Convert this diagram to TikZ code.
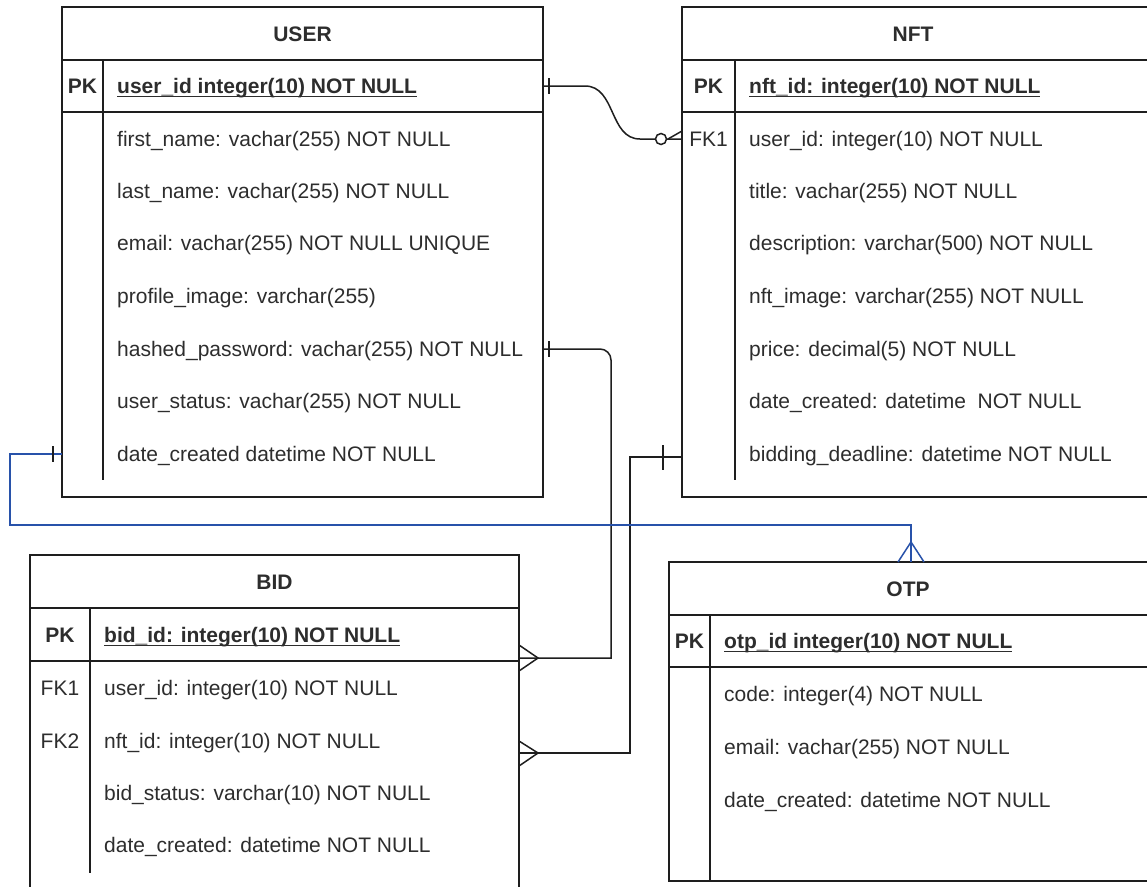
\documentclass[tikz,border=0pt]{standalone}
\usepackage{fontspec}
\setmainfont{Liberation Sans}

\definecolor{ink}{RGB}{30,30,30}
\definecolor{txt}{RGB}{45,45,45}
\definecolor{linkblue}{RGB}{40,82,170}

\newcommand\rowfont{\fontsize{21}{25}\selectfont}
% primary-key field: bold text with a flat underline just below the baseline
\newcommand\keyfield[1]{\setbox0=\hbox{\bfseries #1}\rlap{\rule[-3.6pt]{\wd0}{1.4pt}}\box0}

\begin{document}
\begin{tikzpicture}[x=1pt,y=-1pt,
  entity/.style={draw=ink, line width=1.5pt, inner sep=0pt, outer sep=0pt},
  field/.style={anchor=west, text=txt, font=\rowfont, inner sep=0pt, text height=15pt, text depth=0pt},
  keycell/.style={anchor=center, text=txt, font=\rowfont, inner sep=0pt, text height=15pt, text depth=0pt},
  caption/.style={anchor=center, text=txt, font=\rowfont\bfseries, inner sep=0pt, text height=15pt, text depth=0pt},
  divider/.style={draw=ink, line width=1.5pt},
  rel/.style={draw=ink, line width=1.5pt},
  relblue/.style={draw=linkblue, line width=1.5pt},
]
\useasboundingbox (0,0) rectangle (1147,886);
\clip (0,0) rectangle (1147,886);
\fill[white] (0,0) rectangle (1147,886);

% ---------------- USER ----------------
\node[entity, minimum width=481pt, minimum height=490pt] (user) at (302.5,252) {};
\draw[divider] (62,60) -- (543,60);
\draw[divider] (62,112) -- (543,112);
\draw[divider] (103,60) -- (103,480);
\node[caption] (user-title) at (302.5,33.5) {USER};
\node[keycell] (user-pkl) at (82.5,86) {\bfseries PK};
\node[field] (user-pk) at (117,86) {\keyfield{user\_id integer(10) NOT NULL}};
\node[field] (user-f1) at (117,139) {first\_name: vachar(255) NOT NULL};
\node[field] (user-f2) at (117,191) {last\_name: vachar(255) NOT NULL};
\node[field] (user-f3) at (117,243) {email: vachar(255) NOT NULL UNIQUE};
\node[field] (user-f4) at (117,296) {profile\_image: varchar(255)};
\node[field] (user-f5) at (117,349) {hashed\_password: vachar(255) NOT NULL};
\node[field] (user-f6) at (117,401) {user\_status: vachar(255) NOT NULL};
\node[field] (user-f7) at (117,454) {date\_created datetime NOT NULL};

% ---------------- NFT ----------------
\node[entity, minimum width=466pt, minimum height=490pt] (nft) at (915,252) {};
\draw[divider] (682,60) -- (1148,60);
\draw[divider] (682,112) -- (1148,112);
\draw[divider] (735,60) -- (735,480);
\node[caption] (nft-title) at (913,33.5) {NFT};
\node[keycell] (nft-pkl) at (708.5,86) {\bfseries PK};
\node[keycell] (nft-fkl) at (708.5,139) {FK1};
\node[field] (nft-pk) at (749,86) {\keyfield{nft\_id: integer(10) NOT NULL}};
\node[field] (nft-f1) at (749,139) {user\_id: integer(10) NOT NULL};
\node[field] (nft-f2) at (749,191) {title: vachar(255) NOT NULL};
\node[field] (nft-f3) at (749,243) {description: varchar(500) NOT NULL};
\node[field] (nft-f4) at (749,296) {nft\_image: varchar(255) NOT NULL};
\node[field] (nft-f5) at (749,349) {price: decimal(5) NOT NULL};
\node[field] (nft-f6) at (749,401) {date\_created: datetime\ \ NOT NULL};
\node[field] (nft-f7) at (749,454) {bidding\_deadline: datetime NOT NULL};

% ---------------- BID ----------------
\node[entity, minimum width=489pt, minimum height=350pt] (bid) at (274.5,730) {};
\draw[divider] (30,608) -- (519,608);
\draw[divider] (30,661) -- (519,661);
\draw[divider] (90,608) -- (90,873);
\node[caption] (bid-title) at (274.5,582) {BID};
\node[keycell] (bid-pkl) at (60,635) {\bfseries PK};
\node[keycell] (bid-fk1l) at (60,688) {FK1};
\node[keycell] (bid-fk2l) at (60,741) {FK2};
\node[field] (bid-pk) at (104,635) {\keyfield{bid\_id: integer(10) NOT NULL}};
\node[field] (bid-f1) at (104,688) {user\_id: integer(10) NOT NULL};
\node[field] (bid-f2) at (104,741) {nft\_id: integer(10) NOT NULL};
\node[field] (bid-f3) at (104,793) {bid\_status: varchar(10) NOT NULL};
\node[field] (bid-f4) at (104,845) {date\_created: datetime NOT NULL};

% ---------------- OTP ----------------
\node[entity, minimum width=479pt, minimum height=319pt] (otp) at (908.5,721.5) {};
\draw[divider] (669,615) -- (1148,615);
\draw[divider] (669,667) -- (1148,667);
\draw[divider] (710,615) -- (710,881);
\node[caption] (otp-title) at (908,589) {OTP};
\node[keycell] (otp-pkl) at (689.5,641) {\bfseries PK};
\node[field] (otp-pk) at (724,641) {\keyfield{otp\_id integer(10) NOT NULL}};
\node[field] (otp-f1) at (724,694) {code: integer(4) NOT NULL};
\node[field] (otp-f2) at (724,747) {email: vachar(255) NOT NULL};
\node[field] (otp-f3) at (724,800) {date\_created: datetime NOT NULL};

% ---------------- connection ports ----------------
\coordinate (p-user-pk)   at (user.east |- user-pk);
\coordinate (p-nft-fk)    at (nft.west |- nft-f1);
\coordinate (p-user-hash) at (user.east |- user-f5);
\coordinate (p-bid-user)  at (519,658);
\coordinate (p-nft-dl)    at (682,457);
\coordinate (p-bid-nft)   at (519,753);
\coordinate (p-user-date) at (user.west |- user-f7);
\coordinate (p-otp-top)   at (911,562);

% USER (1) -- (0..n) NFT
\draw[rel] (p-user-pk) -- (585,86) .. controls (616,86) and (609,139) .. (640,139) -- (p-nft-fk);
\draw[rel] ([xshift=6pt]p-user-pk) +(0,-8) -- +(0,8);
\draw[rel, fill=white] (661,139) circle (5.5);
\draw[rel] (p-nft-fk) ++(0,-8) -- (668,139) -- ([yshift=8pt]p-nft-fk);

% USER (1) -- (n) BID
\draw[rel] [rounded corners=11pt] (p-user-hash) -- (611,349) -- (611,600) [sharp corners] -- (611,658) -- (p-bid-user);
\draw[rel] ([xshift=6pt]p-user-hash) +(0,-8) -- +(0,8);
\draw[rel] (p-bid-user) ++(0,-13) -- ++(19,13) -- ++(-19,13);

% NFT (1) -- (n) BID
\draw[rel] (p-nft-dl) -| (630,753) -- (p-bid-nft);
\draw[rel] ([xshift=-19pt]p-nft-dl) +(0,-12) -- +(0,13);
\draw[rel] (p-bid-nft) ++(0,-12) -- ++(19,12) -- ++(-19,13);

% USER (1) -- (n) OTP
\draw[relblue] (p-user-date) -| (10,525) -| (p-otp-top);
\draw[rel] ([xshift=-9pt]p-user-date) +(0,-8) -- +(0,8);
\draw[relblue] (p-otp-top) ++(-13,0) -- (911,542) -- ++(13,20);
\end{tikzpicture}
\end{document}
